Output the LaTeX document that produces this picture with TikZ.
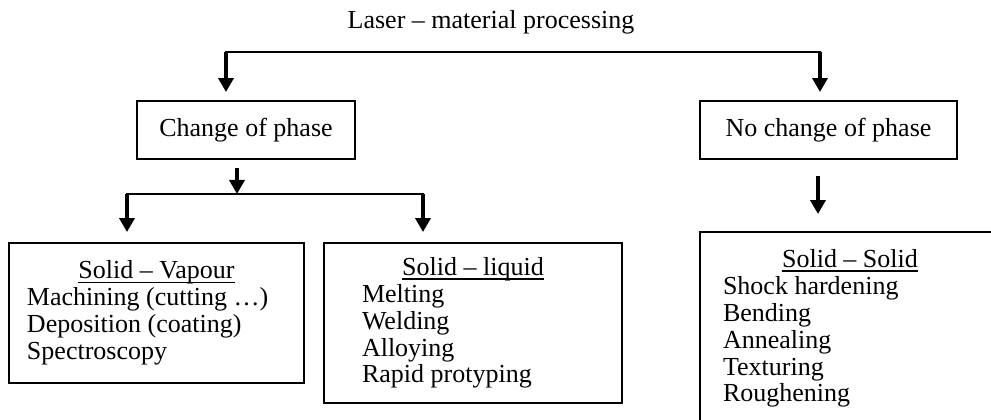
\documentclass[tikz,border=0pt]{standalone}
\usepackage{fontspec}
\setmainfont{Liberation Serif}
\usepackage{tikz}
\usetikzlibrary{arrows.meta}

% underlined heading of a group box
\newcommand{\uhead}[1]{\setbox0=\hbox{#1}\rlap{\rule[-2.5pt]{\wd0}{0.8pt}}\box0}

\begin{document}
\begin{tikzpicture}[
    every node/.style={font=\fontsize{14.8}{15.3}\selectfont},
    box/.style={draw, line width=1.1pt, inner sep=0pt, align=center},
    grp/.style={box, align=flush left},
    bar/.style={line width=1.1pt, line cap=rect},
    arr/.style={-{Triangle[width=0.3cm,length=0.28cm]}, line width=2.2pt}
]
    \useasboundingbox (0,0) rectangle (19.82,8.4);
    \clip (0,0) rectangle (19.82,8.4);

    % Title
    \node[anchor=base] (title) at (9.82,7.82) {Laser – material processing};

    % Phase boxes
    \node[box, minimum width=4.36cm, minimum height=1.16cm] (chg) at (4.92,5.80) {Change of phase};
    \node[box, minimum width=5.14cm, minimum height=1.16cm] (nochg) at (16.57,5.80) {No change of phase};

    % Process groups
    \node[grp, inner xsep=0.36cm, text width=5.18cm, minimum height=2.80cm] (vap) at (3.13,2.14)
        {{\centering\uhead{Solid – Vapour}\par}
         Machining (cutting …)\\ Deposition (coating)\\ Spectroscopy};
    \node[grp, inner xsep=0.76cm, text width=4.44cm, minimum height=3.20cm] (liq) at (9.46,1.94)
        {{\centering\uhead{Solid – liquid}\par}
         Melting\\ Welding\\ Alloying\\ Rapid protyping};
    \node[grp, inner xsep=0.46cm, text width=5.08cm, minimum height=3.86cm] (sol) at (17.00,1.83)
        {{\centering\uhead{Solid – Solid}\par}
         Shock hardening\\ Bending\\ Annealing\\ Texturing\\ Roughening};

    % Branch points
    \coordinate (topL) at (4.52,7.36);
    \coordinate (topR) at (16.40,7.36);
    \coordinate (fork) at (4.74,4.52);
    \coordinate (midL) at (2.54,4.52);
    \coordinate (midR) at (8.46,4.52);
    \coordinate (drop) at (16.36,0);

    % Arrows
    \draw[bar] (topL) -- (topR);
    \draw[arr, shorten >=0.16cm] (topL) -- (topL |- chg.north);
    \draw[arr, shorten >=0.16cm] (topR) -- (topR |- nochg.north);

    \draw[arr, shorten <=0.16cm] (fork |- chg.south) -- (fork);
    \draw[bar] (midL) -- (midR);
    \draw[arr, shorten >=0.2cm] (midL) -- (midL |- vap.north);
    \draw[arr, shorten >=0.2cm] (midR) -- (midR |- liq.north);

    \draw[arr, shorten <=0.32cm, shorten >=0.34cm] (drop |- nochg.south) -- (drop |- sol.north);
\end{tikzpicture}
\end{document}
